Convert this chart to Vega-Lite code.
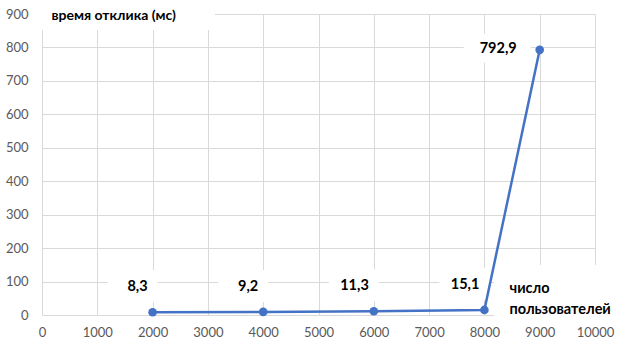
{
  "$schema": "https://vega.github.io/schema/vega-lite/v6.json",
  "autosize": "none",
  "width": 553,
  "height": 301,
  "padding": {"left": 42, "top": 14, "right": 35, "bottom": 34},
  "background": "white",
  "config": {
    "view": {"stroke": null},
    "font": "Lato",
    "locale": {"number": {"decimal": ",", "thousands": "", "grouping": [3], "currency": ["", ""]}}
  },
  "data": {
    "values": [
      {"users": 2000, "ms": 8.3},
      {"users": 4000, "ms": 9.2},
      {"users": 6000, "ms": 11.3},
      {"users": 8000, "ms": 15.1},
      {"users": 9000, "ms": 792.9}
    ]
  },
  "resolve": {"axis": {"x": "independent", "y": "independent"}},
  "layer": [
    {
      "encoding": {
        "x": {
          "field": "users", "type": "quantitative",
          "scale": {"domain": [0, 10000], "nice": false},
          "axis": {
            "orient": "bottom",
            "values": [0, 1000, 2000, 3000, 4000, 5000, 6000, 7000, 8000, 9000, 10000],
            "domain": false, "ticks": false, "labels": false, "title": null,
            "grid": true, "gridColor": "#d9d9d9", "gridWidth": 1, "zindex": 0
          }
        },
        "y": {
          "field": "ms", "type": "quantitative",
          "scale": {"domain": [0, 900], "nice": false},
          "axis": {
            "orient": "left",
            "values": [0, 100, 200, 300, 400, 500, 600, 700, 800, 900],
            "domain": false, "ticks": false, "labels": false, "title": null,
            "grid": true, "gridColor": "#d9d9d9", "gridWidth": 1, "zindex": 0
          }
        }
      },
      "layer": [
        {
          "transform": [{"filter": "datum.users < 9000"}],
          "mark": {"type": "point", "shape": "M-0.45,-0.42H0.05V-0.10H-0.45Z", "size": 40000, "filled": true, "fill": "white", "strokeWidth": 0, "opacity": 1}
        },
        {
          "transform": [{"filter": "datum.users == 9000"}],
          "mark": {"type": "point", "shape": "M-0.76,-0.16H-0.09V0.13H-0.76Z", "size": 40000, "filled": true, "fill": "white", "strokeWidth": 0, "opacity": 1}
        },
        {
          "mark": {"type": "point", "shape": "M0,-0.14H1.73V0.16H0Z", "size": 40000, "filled": true, "fill": "white", "strokeWidth": 0, "opacity": 1},
          "encoding": {"x": {"datum": 0}, "y": {"datum": 900}}
        },
        {
          "mark": {"type": "point", "shape": "M-1.01,-0.50H0.36V0.05H-1.01Z", "size": 40000, "filled": true, "fill": "white", "strokeWidth": 0, "opacity": 1},
          "encoding": {"x": {"datum": 10000}, "y": {"datum": 0}}
        },
        {
          "mark": {"type": "line", "color": "#4472C4", "strokeWidth": 2.5,
            "point": {"filled": true, "size": 75, "color": "#4472C4", "opacity": 1}}
        },
        {
          "transform": [{"filter": "datum.users < 9000"}],
          "mark": {"type": "text", "align": "right", "baseline": "middle", "dx": -5, "dy": -25,
            "font": "Lato", "fontSize": 14.5, "fontWeight": "bold", "color": "#000000"},
          "encoding": {"text": {"field": "ms", "type": "quantitative", "format": ".1f"}}
        }
      ]
    },
    {
      "transform": [{"filter": "datum.users == 9000"}],
      "mark": {"type": "text", "align": "right", "baseline": "middle", "dx": -23, "dy": -1,
        "font": "Lato", "fontSize": 14.5, "fontWeight": "bold", "color": "#000000"},
      "encoding": {
        "x": {
          "field": "users", "type": "quantitative",
          "scale": {"domain": [0, 10000], "nice": false},
          "axis": {
            "orient": "bottom",
            "values": [0, 1000, 2000, 3000, 4000, 5000, 6000, 7000, 8000, 9000, 10000],
            "format": "d",
            "domain": false, "ticks": false, "tickSize": 0, "grid": false,
            "labelFont": "Lato", "labelFontSize": 13, "labelColor": "#595959", "labelPadding": 11,
            "labelFlush": false, "labelOverlap": false,
            "title": ["число", "пользователей"],
            "titleX": 467, "titleY": -23, "titleAlign": "left", "titleBaseline": "alphabetic",
            "titleFont": "Lato", "titleFontSize": 14.5, "titleFontWeight": "bold", "titleColor": "#000000",
            "titleLineHeight": 21,
            "zindex": 1
          }
        },
        "y": {
          "field": "ms", "type": "quantitative",
          "scale": {"domain": [0, 900], "nice": false},
          "axis": {
            "orient": "left",
            "values": [0, 100, 200, 300, 400, 500, 600, 700, 800, 900],
            "format": "d",
            "domain": false, "ticks": false, "tickSize": 0, "grid": false,
            "labelFont": "Lato", "labelFontSize": 13, "labelColor": "#595959", "labelPadding": 14,
            "labelOverlap": false,
            "title": "время отклика (мс)",
            "titleX": 9, "titleY": 5, "titleAngle": 0, "titleAlign": "left", "titleBaseline": "alphabetic",
            "titleFont": "Lato", "titleFontSize": 14, "titleFontWeight": "bold", "titleColor": "#000000",
            "zindex": 1
          }
        },
        "text": {"field": "ms", "type": "quantitative", "format": ".1f"}
      }
    }
  ]
}
